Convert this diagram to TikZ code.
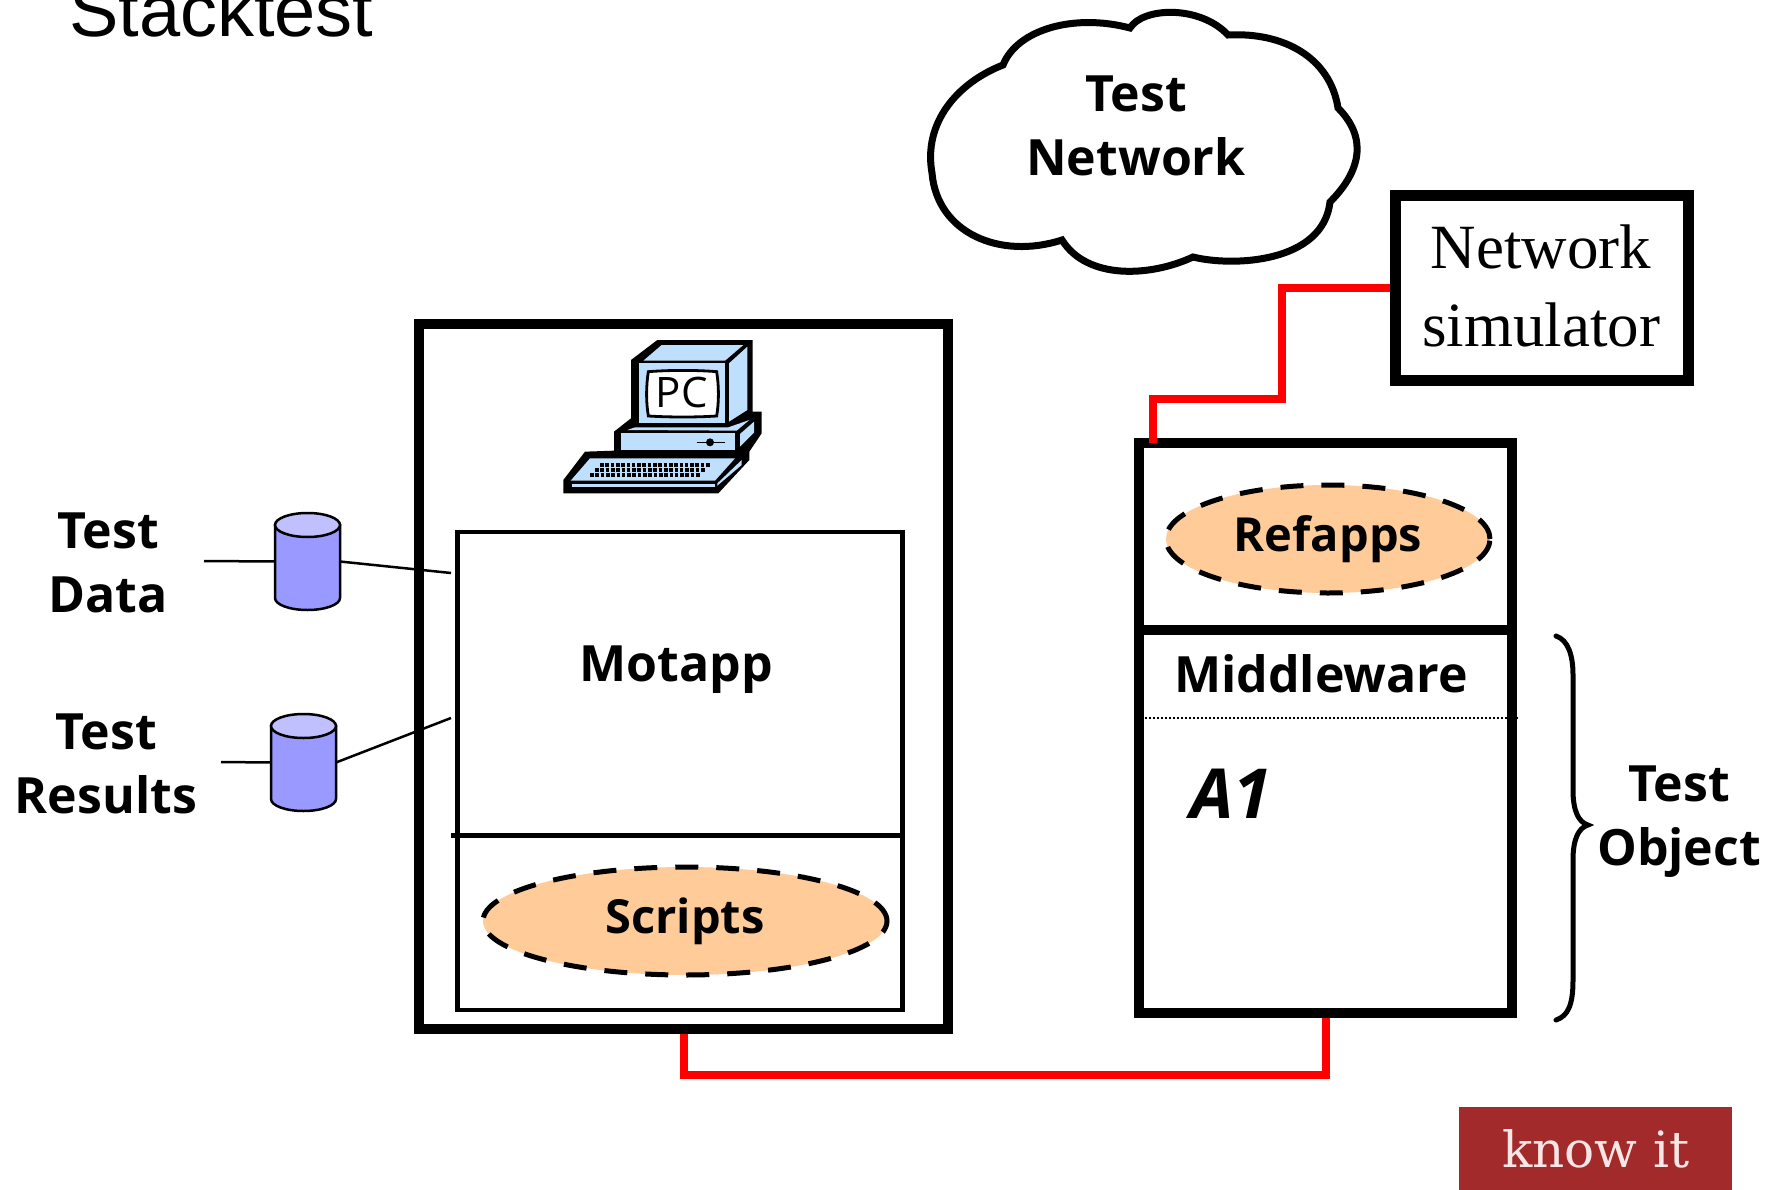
\documentclass[tikz,border=0pt]{standalone}
\usepackage{fontspec}
\setmainfont{Open Sans}
\newfontfamily\arialfont{Liberation Sans}
\newfontfamily\timesfont{Liberation Serif}
\newfontfamily\logofont{DejaVu Serif}
\usetikzlibrary{shapes.geometric}
\definecolor{pcblue}{HTML}{BFDFFF}
\definecolor{peach}{HTML}{FFCC99}
\definecolor{dbbody}{HTML}{9999FF}
\definecolor{dbtop}{HTML}{C0C0FF}
\definecolor{logored}{HTML}{A32A2A}
\definecolor{logotext}{HTML}{F8E6E6}
\tikzset{
  thickbox/.style={draw=black,line width=10.5pt,rectangle,minimum width=#1,inner sep=0pt,fill=white},
  thinbox/.style={draw=black,line width=4.5pt,rectangle,inner sep=0pt},
  lbl/.style={font=\bfseries\fontsize{50}{64}\selectfont,align=center,inner sep=0pt},
  lblsmall/.style={font=\bfseries\fontsize{47}{56}\selectfont,align=center,inner sep=0pt},
  dashell/.style={ellipse,draw=black,fill=peach,line width=5pt,dash pattern=on 23pt off 18pt,inner sep=0pt},
  redline/.style={draw=red,line width=8pt,line cap=butt,miter limit=10},
  wire/.style={draw=black,line width=2.5pt},
  cyl/.style={draw=black,line width=2.5pt},
  anchorbox/.style={rectangle,inner sep=0pt,outer sep=0pt,minimum width=65pt,minimum height=97pt}
}
\begin{document}
\begin{tikzpicture}[x=1pt,y=-1pt]
\useasboundingbox (0,0) rectangle (1787,1190);
\fill[white] (0,0) rectangle (1787,1190);

% title
\node[anchor=base west,inner sep=0pt,font=\arialfont\fontsize{74}{80}\selectfont] (title) at (69,37) {Stacktest};

% cloud
\draw[line width=7pt,fill=white,line join=miter]
  (1003,65) .. controls (1017,30) and (1073,13) .. (1130,28)
  .. controls (1143,7) and (1200,5) .. (1228,35)
  .. controls (1283,32) and (1330,57) .. (1338,108)
  .. controls (1367,137) and (1362,170) .. (1330,202)
  .. controls (1323,263) and (1233,267) .. (1193,257)
  .. controls (1150,277) and (1087,280) .. (1062,240)
  .. controls (1000,260) and (937,233) .. (932,173)
  .. controls (923,123) and (957,83) .. (1003,65) -- cycle;
\node[lbl] (cloudtext) at (1136,126) {Test\\Network};

% boxes
\node[thickbox=529pt,minimum height=705pt] (lbox) at (683.5,676.5) {};
\node[thinbox,minimum width=445pt,minimum height=478pt] (motapp) at (680,771) {};
\coordinate (divl) at (451,835);
\draw[line width=5pt] (divl) -- (divl -| motapp.east);
\node[lbl] (motapptext) at (676,670) {Motapp};
\node[dashell,minimum width=404pt,minimum height=108pt] (scripts) at (685,921) {};
\node[lblsmall] (scriptstext) at (685,921) {Scripts};

\node[thickbox=373pt,minimum height=187pt] (refbox) at (1325.5,536.5) {};
\node[thickbox=373pt,minimum height=383pt] (mwbox) at (1325.5,821.5) {};
\node[dashell,minimum width=324pt,minimum height=108pt] (refapps) at (1328,539) {};
\node[lblsmall] (refappstext) at (1328,539) {Refapps};
\node[lbl] (mwtext) at (1321,674) {Middleware};
\coordinate (dotl) at (1145,718);
\draw[line width=2pt,dash pattern=on 2pt off 2pt] (dotl) -- (dotl -| mwbox.east);
\node[font=\bfseries\itshape\fontsize{69}{75}\selectfont,inner sep=0pt] (a1) at (1231,794) {A1};

% network simulator
\node[draw=black,line width=11pt,rectangle,minimum width=293pt,minimum height=184pt,inner sep=0pt] (nsim) at (1541.5,288) {};
\node[font=\timesfont\fontsize{63}{78}\selectfont,align=center,inner sep=0pt] (nsimtext) at (1541,286) {Network\\simulator};

% red connectors
\coordinate (c1) at (1000,1075);
\coordinate (c2) at (1282,399);
\coordinate (rin) at (1153,443);
\draw[redline] (lbox.south) |- (c1) -| (mwbox.south);
\draw[redline] (nsim.west) -| (c2) -| (rin);

% cylinders
\node[anchorbox] (db1) at (307.5,561.5) {};
\node[anchorbox] (db2) at (303.5,762.5) {};
\coordinate (w1) at (204,561);
\coordinate (w2) at (221,762);
\coordinate (w3) at (451,573);
\coordinate (w4) at (451,718);
\draw[wire] (w1) -- (db1.west);
\draw[wire] (db1.east) -- (w3);
\draw[wire] (w2) -- (db2.west);
\draw[wire] (db2.east) -- (w4);
\foreach \n/\cx/\ty/\by in {db1/307.5/525/598,db2/303.5/726/799}{
  \path[cyl,fill=dbbody] (\cx-32.5,\ty) -- (\cx-32.5,\by) arc[start angle=180,end angle=360,x radius=32.5,y radius=-12] -- (\cx+32.5,\ty) -- cycle;
  \path[cyl,fill=dbtop] (\cx,\ty) ellipse[x radius=32.5,y radius=12];
}

% labels
\node[lbl] (tdata) at (108,563) {Test\\Data};
\node[lbl] (tres) at (106,764) {Test\\Results};
\node[lbl] (tobj) at (1679,822) {Test\\Object};

% brace
\draw[line width=5pt,line cap=round]
  (1556,636) .. controls (1568,640) and (1573,655) .. (1573,675) -- (1573,790)
  .. controls (1573,810) and (1578,822) .. (1588,825)
  .. controls (1578,828) and (1573,840) .. (1573,860) -- (1573,980)
  .. controls (1573,1005) and (1568,1016) .. (1556,1020);

% computer
\begin{scope}[shift={(540,320)},scale=1/3]
  \fill[black] (273,120) -- (352,60) -- (638,60) -- (638,275) -- (665,275) -- (665,340) -- (628,395) -- (628,420) -- (535,520) -- (70,520) -- (70,480) -- (135,395) -- (222,392) -- (222,335) -- (273,295) -- cycle;
  \fill[pcblue] (297,130) -- (555,130) -- (555,310) -- (297,310) -- cycle;
  \fill[pcblue] (310,122) -- (365,75) -- (610,75) -- (555,122) -- cycle;
  \fill[pcblue] (567,130) -- (622,80) -- (622,270) -- (567,305) -- cycle;
  \fill[pcblue] (243,340) -- (585,340) -- (585,390) -- (243,390) -- cycle;
  \fill[pcblue] (262,330) -- (285,322) -- (565,322) -- (628,300) -- (590,332) -- cycle;
  \fill[pcblue] (600,342) -- (642,305) -- (642,338) -- (600,380) -- cycle;
  \fill[pcblue] (92,482) -- (150,415) -- (585,415) -- (525,482) -- cycle;
  \fill[pcblue] (95,492) -- (525,492) -- (525,500) -- (95,500) -- cycle;
  \fill[pcblue] (532,490) -- (605,420) -- (605,435) -- (532,497) -- cycle;
  \draw[black,line width=4pt,dash pattern=on 3.6pt off 1.7pt] (180,434) -- (510,434);
  \draw[black,line width=4pt,dash pattern=on 3.6pt off 1.7pt] (165,449) -- (495,449);
  \draw[black,line width=4pt,dash pattern=on 3.6pt off 1.7pt] (150,465) -- (480,465);
  \draw[black,line width=1.5pt] (470,367) -- (555,367);
  \fill[black] (510,367) circle[radius=12];
  \draw[black,line width=2.8pt,fill=white] (325,155) .. controls (390,150) and (470,150) .. (530,155) .. controls (537,200) and (537,245) .. (530,288) .. controls (470,292) and (390,292) .. (325,288) .. controls (318,245) and (318,200) .. (325,155) -- cycle;
  \node[font=\fontsize{42}{46}\selectfont,inner sep=0pt] (pctext) at (425,218) {PC};
\end{scope}

% logo
\fill[logored] (1459,1107) rectangle (1732,1190);
\node[font=\logofont\fontsize{50}{54}\selectfont,text=logotext,inner sep=0pt] (logo) at (1596,1149) {know it};
\end{tikzpicture}
\end{document}
